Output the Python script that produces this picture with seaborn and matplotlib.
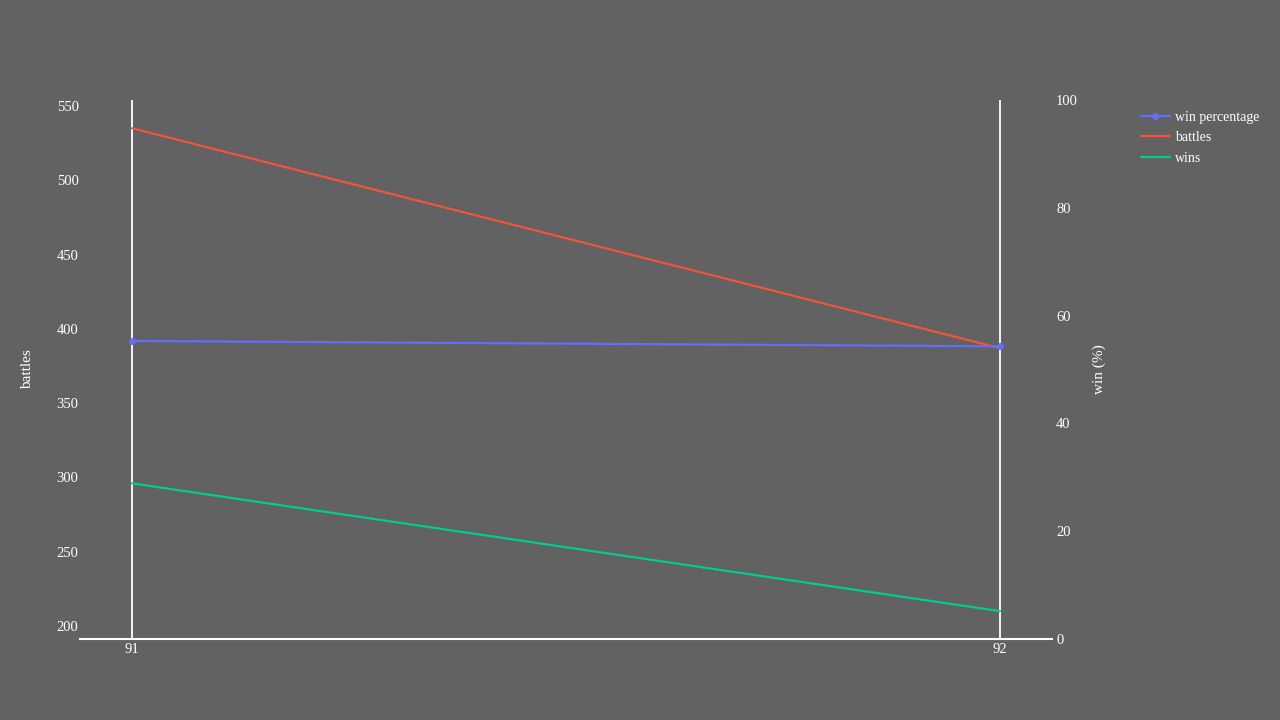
import numpy as np
import pandas as pd
import matplotlib
matplotlib.use("Agg")
import matplotlib.pyplot as plt
import seaborn as sns
from matplotlib.lines import Line2D

# data
seasons = [91, 92]
battles = [535, 387]
wins = [296, 210]
win_pct = [55.3, 54.3]

BG = '#626262'
BLUE = '#636efa'
RED = '#EF553B'
GREEN = '#00cc96'

sns.set_theme(style='white')
plt.rcParams['font.family'] = ['Liberation Serif', 'DejaVu Serif']
plt.rcParams['text.color'] = 'white'

df = pd.DataFrame({'season': seasons, 'battles': battles, 'wins': wins, 'win_pct': win_pct})

fig = plt.figure(figsize=(12.8, 7.2), dpi=100)
fig.patch.set_facecolor(BG)
ax = fig.add_axes([80 / 1280, 1 - 639 / 720, (1052 - 80) / 1280, (639 - 100) / 720])
ax.set_facecolor(BG)
ax2 = ax.twinx()

sns.lineplot(data=df, x='season', y='battles', color=RED, lw=1.6, ax=ax)
sns.lineplot(data=df, x='season', y='wins', color=GREEN, lw=1.6, ax=ax)
sns.lineplot(data=df, x='season', y='win_pct', color=BLUE, lw=1.6, marker='o',
             markersize=5, markeredgewidth=0, ax=ax2)

# vertical axis lines sit on the first and last season
for s in seasons:
    ax.axvline(s, color='white', lw=1.3, zorder=0)

pad = 52 / 868
ax.set_xlim(seasons[0] - pad, seasons[-1] + pad)
ax.set_ylim(191.25, 554.0)
ax2.set_ylim(0, 100)

ax.set_xticks(seasons)
ax.set_yticks(np.arange(200, 551, 50))
ax2.set_yticks(np.arange(0, 101, 20))

for a in (ax, ax2):
    for sp in a.spines.values():
        sp.set_visible(False)
    a.tick_params(colors='white', labelsize=10.5, length=0)
    a.grid(False)
ax.spines['bottom'].set_visible(True)
ax.spines['bottom'].set_color('white')
ax.spines['bottom'].set_linewidth(1.5)

ax.tick_params(axis='y', pad=1)
ax2.tick_params(axis='y', pad=3)
ax.tick_params(axis='x', pad=3)

ax.set_xlabel('')
ax.set_ylabel('battles', color='white', fontsize=11)
ax.yaxis.set_label_coords(-46 / 972, 0.5)
ax2.set_ylabel('win (%)', color='white', fontsize=11, rotation=90)
ax2.yaxis.set_label_coords(1 + 41 / 972, 0.5)

handles = [
    Line2D([], [], color=BLUE, lw=1.6, marker='o', markersize=5, markeredgewidth=0),
    Line2D([], [], color=RED, lw=1.6),
    Line2D([], [], color=GREEN, lw=1.6),
]
leg = fig.legend(handles, ['win percentage', 'battles', 'wins'],
                 loc='upper left', bbox_to_anchor=(1128 / 1280, 1 - 98 / 720),
                 frameon=False, fontsize=10, handlelength=2.1,
                 labelspacing=0.55, handletextpad=0.4)
for t in leg.get_texts():
    t.set_color('white')

fig.savefig('out.png', dpi=100, facecolor=BG)
